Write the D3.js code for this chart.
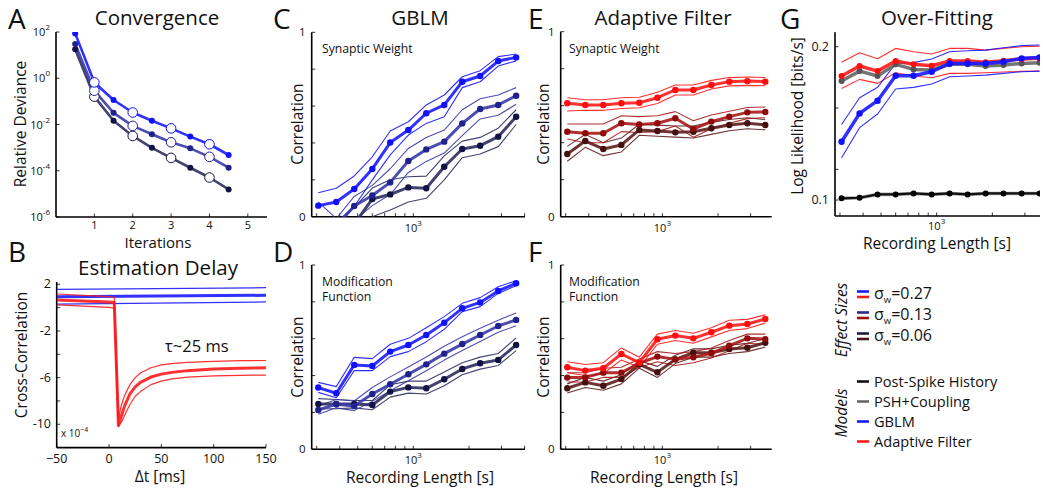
<!DOCTYPE html>
<html>
<head>
<meta charset="utf-8">
<script src="https://cdn.jsdelivr.net/npm/d3@7"></script>
<style>
  body { margin: 0; background: #fff; }
  svg { font-family: "Open Sans", sans-serif; display: block; }
</style>
</head>
<body>
<svg id="chart" width="1043" height="491"></svg>
<script>
// ---- A: convergence ----
const iterations = [0.5, 1, 1.5, 2, 2.5, 3, 3.5, 4, 4.5];
const devHigh = [87, 0.66, 0.115, 0.033, 0.0145, 0.0068, 0.003, 0.0014, 0.00048];
const devMid = [30, 0.29, 0.032, 0.0087, 0.0038, 0.0017, 0.00093, 0.0004, 0.000135];
const devLow = [18, 0.16, 0.0145, 0.0032, 0.00098, 0.00036, 0.000135, 0.000051, 0.0000155];
const devYTicks = [-6, -4, -2, 0, 2];   // exponents
const iterTicks = [1, 2, 3, 4, 5];

// ---- B: estimation delay ----
const blueLag = [-50, 150];
const blueXC = [0.94, 1.06];
const blueXCUp = [1.57, 1.71];
const blueXCLo = [0.30, 0.49];
const redLag = [-50, 0, 5, 9, 12, 15, 20, 25, 30, 40, 50, 60, 75, 100, 125, 150];
const redXC = [0.66, 0.48, 0.44, -10.1, -9.2, -8.4, -7.4, -6.8, -6.4, -5.95, -5.7, -5.55, -5.4, -5.27, -5.2, -5.15];
const redXCUp = [1.17, 0.95, 0.89, -9.5, -8.3, -7.5, -6.6, -6.0, -5.6, -5.15, -4.9, -4.8, -4.7, -4.6, -4.55, -4.53];
const redXCLo = [0.24, 0.02, -0.04, -10.2, -9.8, -9.2, -8.3, -7.6, -7.2, -6.6, -6.3, -6.1, -5.95, -5.85, -5.8, -5.78];
const lagTicks = [-50, 0, 50, 100, 150];
const xcTicks = [2, 0, -2, -4, -6, -8, -10];
const xcLabels = [2, -2, -6, -10];

// ---- C-F: correlation vs recording length ----
const recLen = [306, 383, 479, 600, 750, 940, 1175, 1470, 1840, 2300, 2880, 3600];
const corrTicks = [0, 0.2, 0.4, 0.6, 0.8, 1];
const lenMinor = [300, 400, 500, 600, 700, 800, 900, 1000, 2000, 3000, 4000];

// C: GBLM synaptic weight
const gblmW = [
  [0.060, 0.080, 0.150, 0.259, 0.402, 0.470, 0.561, 0.606, 0.732, 0.763, 0.844, 0.864],
  [-0.20, -0.05, 0.058, 0.115, 0.186, 0.302, 0.365, 0.407, 0.506, 0.584, 0.606, 0.656],
  [-0.25, -0.15, -0.04, 0.096, 0.121, 0.159, 0.154, 0.271, 0.367, 0.385, 0.434, 0.542]
];
const gblmWUp = [
  [0.130, 0.154, 0.221, 0.325, 0.465, 0.515, 0.606, 0.660, 0.759, 0.792, 0.868, 0.882],
  [0.08, -0.01, 0.11, 0.17, 0.26, 0.37, 0.43, 0.47, 0.58, 0.64, 0.66, 0.70],
  [-0.10, -0.05, 0.05, 0.155, 0.20, 0.217, 0.22, 0.33, 0.41, 0.43, 0.48, 0.58]
];
const gblmWLo = [
  [-0.01, -0.03, 0.055, 0.20, 0.335, 0.443, 0.506, 0.542, 0.70, 0.732, 0.817, 0.845],
  [-0.30, -0.12, -0.02, 0.06, 0.12, 0.24, 0.30, 0.345, 0.44, 0.53, 0.55, 0.61],
  [-0.35, -0.25, -0.10, 0.0, 0.036, 0.08, 0.10, 0.20, 0.32, 0.34, 0.38, 0.50]
];
// D: GBLM modification function
const gblmM = [
  [0.335, 0.304, 0.458, 0.452, 0.530, 0.566, 0.620, 0.687, 0.765, 0.797, 0.859, 0.901],
  [0.213, 0.245, 0.235, 0.300, 0.353, 0.407, 0.461, 0.519, 0.571, 0.620, 0.669, 0.702],
  [0.246, 0.246, 0.246, 0.240, 0.313, 0.336, 0.331, 0.380, 0.436, 0.467, 0.485, 0.566]
];
const gblmMUp = [
  [0.363, 0.340, 0.499, 0.492, 0.570, 0.602, 0.660, 0.720, 0.792, 0.823, 0.882, 0.915],
  [0.235, 0.27, 0.262, 0.335, 0.393, 0.447, 0.501, 0.559, 0.611, 0.657, 0.70, 0.74],
  [0.275, 0.27, 0.265, 0.265, 0.35, 0.37, 0.37, 0.42, 0.47, 0.50, 0.52, 0.605]
];
const gblmMLo = [
  [0.309, 0.280, 0.427, 0.427, 0.503, 0.530, 0.584, 0.651, 0.747, 0.774, 0.846, 0.888],
  [0.19, 0.225, 0.21, 0.26, 0.318, 0.372, 0.426, 0.484, 0.536, 0.585, 0.635, 0.67],
  [0.22, 0.22, 0.225, 0.215, 0.283, 0.305, 0.30, 0.345, 0.405, 0.435, 0.455, 0.535]
];
// E: adaptive filter synaptic weight
const afW = [
  [0.613, 0.604, 0.604, 0.613, 0.616, 0.643, 0.685, 0.685, 0.712, 0.730, 0.733, 0.730],
  [0.459, 0.451, 0.451, 0.505, 0.499, 0.505, 0.532, 0.474, 0.514, 0.541, 0.564, 0.566],
  [0.339, 0.409, 0.366, 0.388, 0.469, 0.463, 0.456, 0.459, 0.478, 0.496, 0.505, 0.496]
];
const afWUp = [
  [0.643, 0.632, 0.632, 0.643, 0.646, 0.673, 0.712, 0.712, 0.737, 0.752, 0.755, 0.752],
  [0.501, 0.501, 0.501, 0.546, 0.541, 0.546, 0.568, 0.519, 0.55, 0.57, 0.59, 0.593],
  [0.38, 0.445, 0.40, 0.425, 0.50, 0.495, 0.49, 0.49, 0.51, 0.525, 0.535, 0.525]
];
const afWLo = [
  [0.571, 0.575, 0.575, 0.585, 0.589, 0.612, 0.658, 0.658, 0.69, 0.707, 0.71, 0.708],
  [0.42, 0.40, 0.40, 0.46, 0.455, 0.46, 0.49, 0.43, 0.475, 0.505, 0.53, 0.535],
  [0.30, 0.375, 0.33, 0.35, 0.44, 0.435, 0.43, 0.425, 0.445, 0.465, 0.475, 0.47]
];
// F: adaptive filter modification function
const afM = [
  [0.445, 0.427, 0.440, 0.517, 0.470, 0.597, 0.617, 0.602, 0.635, 0.671, 0.680, 0.707],
  [0.389, 0.39, 0.416, 0.416, 0.467, 0.503, 0.488, 0.499, 0.521, 0.562, 0.602, 0.598],
  [0.331, 0.363, 0.345, 0.381, 0.461, 0.418, 0.488, 0.524, 0.524, 0.544, 0.551, 0.578]
];
const afMUp = [
  [0.475, 0.46, 0.47, 0.55, 0.50, 0.625, 0.645, 0.63, 0.66, 0.70, 0.705, 0.73],
  [0.415, 0.415, 0.44, 0.445, 0.49, 0.53, 0.52, 0.53, 0.55, 0.59, 0.625, 0.625],
  [0.355, 0.39, 0.37, 0.405, 0.48, 0.45, 0.51, 0.545, 0.545, 0.565, 0.575, 0.60]
];
const afMLo = [
  [0.415, 0.40, 0.41, 0.485, 0.445, 0.57, 0.59, 0.575, 0.61, 0.645, 0.655, 0.685],
  [0.365, 0.365, 0.39, 0.39, 0.445, 0.475, 0.455, 0.47, 0.495, 0.535, 0.575, 0.57],
  [0.305, 0.335, 0.32, 0.355, 0.44, 0.39, 0.465, 0.50, 0.50, 0.52, 0.53, 0.555]
];

// ---- G: over-fitting (log likelihood) ----
const llHistory = [0.1011, 0.1015, 0.1037, 0.1037, 0.1043, 0.1037, 0.1043, 0.1037, 0.1043, 0.1043, 0.1043, 0.1043];
const llCoupling = [0.1776, 0.1841, 0.1809, 0.1885, 0.1852, 0.1848, 0.1885, 0.1885, 0.1874, 0.1880, 0.1891, 0.1896];
const llGblm = [0.1380, 0.1565, 0.1648, 0.1811, 0.1811, 0.1837, 0.1891, 0.1891, 0.1891, 0.1902, 0.1924, 0.1930];
const llGblmUp = [0.1493, 0.1667, 0.1735, 0.1891, 0.1896, 0.1920, 0.1967, 0.1974, 0.1978, 0.1993, 0.2007, 0.2011];
const llGblmLo = [0.1276, 0.1472, 0.1561, 0.1724, 0.1735, 0.1757, 0.1804, 0.1809, 0.1815, 0.1826, 0.1837, 0.1841];
const llAf = [0.1809, 0.1874, 0.1841, 0.1907, 0.1885, 0.1876, 0.1907, 0.1907, 0.1898, 0.1909, 0.1920, 0.1924];
const llAfUp = [0.1898, 0.1961, 0.1922, 0.1989, 0.1967, 0.1952, 0.1989, 0.1989, 0.1978, 0.1989, 0.2000, 0.2004];
const llAfLo = [0.1728, 0.1787, 0.1761, 0.1830, 0.1809, 0.1798, 0.1826, 0.1826, 0.1830, 0.1835, 0.1839, 0.1841];
const llTicks = [0.1, 0.12, 0.16, 0.2];
const llLabels = [0.1, 0.2];

// ---- legend ----
const effectSizes = ["0.27", "0.13", "0.06"];
const modelNames = ["Post-Spike History", "PSH+Coupling", "GBLM", "Adaptive Filter"];
const modelColors = ["#111", "#666", "#1a1aff", "#ff1a1a"];

const blueLine = ["#1a1aff", "#3a3aa8", "#2e2e60"];
const blueDot = ["#1010ff", "#20208f", "#121245"];
const redLine = ["#ff1a1a", "#a81818", "#5e1e1e"];
const redDot = ["#ff0c0c", "#8f0a0a", "#451010"];

const svg = d3.select("#chart");
let clipId = 0;

function axesFrame(x, y, xTicks, yTicks) {
  const [x0, x1] = x.range();
  const [y0, y1] = y.range();
  const g = svg.append("g").attr("stroke", "#000").attr("fill", "none");
  g.append("line").attr("x1", x0).attr("x2", x1).attr("y1", y0).attr("y2", y0).attr("stroke-width", 1.6);
  g.append("line").attr("x1", x0).attr("x2", x0).attr("y1", y0).attr("y2", y1).attr("stroke-width", 1.6);
  xTicks.forEach(v => g.append("line")
    .attr("x1", x(v)).attr("x2", x(v)).attr("y1", y0).attr("y2", y0 - 3.5).attr("stroke-width", 0.8));
  yTicks.forEach(v => g.append("line")
    .attr("x1", x0).attr("x2", x0 + 3.5).attr("y1", y(v)).attr("y2", y(v)).attr("stroke-width", 0.8));
}

function plotArea(x, y) {
  const id = "clip" + (clipId++);
  const [x0, x1] = x.range();
  const [y0, y1] = y.range();
  svg.append("clipPath").attr("id", id).append("rect")
    .attr("x", x0).attr("y", y1).attr("width", x1 - x0).attr("height", y0 - y1);
  return svg.append("g").attr("clip-path", `url(#${id})`);
}

function txt(x, y, s, size, anchor = "start", extra = {}) {
  const t = svg.append("text").attr("x", x).attr("y", y)
    .attr("font-size", size).attr("text-anchor", anchor).attr("fill", "#111").text(s);
  Object.entries(extra).forEach(([k, v]) => t.attr(k, v));
  return t;
}

function vlabel(x, y, s, size, extra = {}) {
  const t = svg.append("text").attr("transform", `translate(${x},${y}) rotate(-90)`)
    .attr("font-size", size).attr("text-anchor", "middle").attr("fill", "#111").text(s);
  Object.entries(extra).forEach(([k, v]) => t.attr(k, v));
  return t;
}

function powLabel(x, y, base, exp, anchor) {
  const t = svg.append("text").attr("x", x).attr("y", y).attr("font-size", 11)
    .attr("text-anchor", anchor).attr("fill", "#111");
  t.append("tspan").text(base);
  t.append("tspan").attr("dy", -6).attr("font-size", 8).text(exp);
  return t;
}

function series(g, x, xs, y, ys, color, width, dots, dotColor, r = 3.2) {
  const pts = xs.map((d, i) => [x(d), y(ys[i])]);
  g.append("path").attr("d", d3.line()(pts)).attr("fill", "none")
    .attr("stroke", color).attr("stroke-width", width)
    .attr("stroke-linejoin", "round").attr("stroke-opacity", 0.9);
  if (dots) g.append("g").selectAll("circle").data(pts).join("circle")
    .attr("cx", d => d[0]).attr("cy", d => d[1]).attr("r", r).attr("fill", dotColor);
}

// ================= A =================
{
  const x = d3.scaleLinear().domain([0, 5.5]).range([56, 267]);
  const y = d3.scaleLog().domain([1e-6, 1e2]).range([217, 32]);
  axesFrame(x, y, iterTicks, devYTicks.map(e => Math.pow(10, e)));
  const g = plotArea(x, y);
  const sets = [devLow, devMid, devHigh];
  const cols = [blueLine[2], blueLine[1], blueLine[0]];
  const dcols = [blueDot[2], blueDot[1], blueDot[0]];
  sets.forEach((s, k) => {
    series(g, x, iterations, y, s, cols[k], 2.6, false);
  });
  sets.forEach((s, k) => {
    iterations.forEach((it, i) => {
      if (Number.isInteger(it)) {
        g.append("circle").attr("cx", x(it)).attr("cy", y(s[i])).attr("r", 4.8)
          .attr("fill", "#fff").attr("stroke", dcols[k]).attr("stroke-width", 1);
      } else {
        g.append("circle").attr("cx", x(it)).attr("cy", y(s[i])).attr("r", 3)
          .attr("fill", dcols[k]);
      }
    });
  });
  devYTicks.forEach(e => powLabel(50, y(Math.pow(10, e)) + 4, "10", e, "end"));
  iterTicks.forEach(v => txt(x(v), 229, v, 11, "middle"));
  txt(157, 25, "Convergence", 20.5, "middle");
  txt(158, 248.3, "Iterations", 15, "middle");
  vlabel(26, 124, "Relative Deviance", 15.5);
  txt(8, 29, "A", 28);
}

// ================= B =================
{
  const x = d3.scaleLinear().domain([-50, 150]).range([56.7, 266]);
  const y = d3.scaleLinear().domain([-12, 2.2]).range([447.6, 282]);
  axesFrame(x, y, lagTicks, xcTicks);
  const g = plotArea(x, y);
  series(g, x, blueLag, y, blueXCUp, blueLine[0], 1.2, false);
  series(g, x, blueLag, y, blueXCLo, blueLine[0], 1.2, false);
  series(g, x, blueLag, y, blueXC, blueLine[0], 3, false);
  series(g, x, redLag, y, redXCUp, redLine[0], 1.2, false);
  series(g, x, redLag, y, redXCLo, redLine[0], 1.2, false);
  series(g, x, redLag, y, redXC, redLine[0], 3, false);
  xcLabels.forEach(v => txt(51, y(v) + 4, v, 12.5, "end"));
  lagTicks.forEach(v => txt(x(v), 463, v === -50 ? "\u221250" : v, 12.5, "middle"));
  txt(61, 437, "x 10", 10).append("tspan").attr("dy", -5).attr("font-size", 7).text("\u22124");
  txt(165, 352, "\u03c4~25 ms", 16.5);
  txt(158, 275, "Estimation Delay", 20.5, "middle");
  txt(160, 482, "\u0394t [ms]", 15.5, "middle");
  vlabel(27, 355, "Cross-Correlation", 15.5);
  txt(8, 262, "B", 28);
}

// ================= C-F =================
function corrPanel(xr, yr, centre, up, lo, lineCols, dotCols) {
  const x = d3.scaleLog().domain([282, xr[2]]).range([xr[0], xr[1]]);
  const y = d3.scaleLinear().domain([0, 1]).range(yr);
  axesFrame(x, y, lenMinor.filter(v => v <= xr[2]), corrTicks);
  const g = plotArea(x, y);
  [2, 1, 0].forEach(k => {
    series(g, x, recLen, y, up[k], lineCols[k], 1.1, false);
    series(g, x, recLen, y, lo[k], lineCols[k], 1.1, false);
  });
  [2, 1, 0].forEach(k => series(g, x, recLen, y, centre[k], lineCols[k], 3, true, dotCols[k]));
  txt(xr[0] - 6, y(1) + 4, "1", 11.5, "end");
  txt(xr[0] - 6, y(0) + 4, "0", 11.5, "end");
  powLabel(x(1000), y(0) + 15, "10", "3", "middle");
  return { x, y };
}

{
  corrPanel([311.7, 525, 4020], [216.7, 32.3], gblmW, gblmWUp, gblmWLo, blueLine, blueDot);
  txt(420, 25, "GBLM", 20.5, "middle");
  txt(322, 53, "Synaptic Weight", 12.2);
  vlabel(303, 124, "Correlation", 15.5);
  txt(273, 29, "C", 28);

  corrPanel([311.7, 525, 4020], [449.3, 265], gblmM, gblmMUp, gblmMLo, blueLine, blueDot);
  txt(322, 286, "Modification", 12.2);
  txt(322, 301, "Function", 12.2);
  txt(420, 483, "Recording Length [s]", 15.5, "middle");
  vlabel(303, 357, "Correlation", 15.5);
  txt(273, 262, "D", 28);

  corrPanel([560.7, 771.7, 3900], [216.7, 31.7], afW, afWUp, afWLo, redLine, redDot);
  txt(663, 25, "Adaptive Filter", 20.5, "middle");
  txt(569, 53, "Synaptic Weight", 12.2);
  vlabel(549, 124, "Correlation", 15.5);
  txt(528, 29, "E", 28);

  corrPanel([560.7, 771.7, 3900], [449.3, 265], afM, afMUp, afMLo, redLine, redDot);
  txt(569, 286, "Modification", 12.2);
  txt(569, 301, "Function", 12.2);
  txt(664, 483, "Recording Length [s]", 15.5, "middle");
  vlabel(549, 357, "Correlation", 15.5);
  txt(528, 262, "F", 28);
}

// ================= G =================
{
  const x = d3.scaleLog().domain([282, 3620]).range([835, 1040]);
  const y = d3.scaleLinear().domain([0.0896, 0.2094]).range([216, 32.3]);
  axesFrame(x, y, lenMinor.filter(v => v <= 3620), llTicks);
  const g = plotArea(x, y);
  series(g, x, recLen, y, llAfUp, "#ff1a1a", 1.1, false);
  series(g, x, recLen, y, llAfLo, "#ff1a1a", 1.1, false);
  series(g, x, recLen, y, llGblmUp, "#1a1aff", 1.1, false);
  series(g, x, recLen, y, llGblmLo, "#1a1aff", 1.1, false);
  series(g, x, recLen, y, llHistory, "#999", 3.6, false);
  series(g, x, recLen, y, llHistory, "#000", 2.2, true, "#000", 3);
  series(g, x, recLen, y, llCoupling, "#666", 3.5, true, "#555", 3);
  series(g, x, recLen, y, llAf, "#ff1a1a", 3.5, true, "#ff0c0c", 3);
  series(g, x, recLen, y, llGblm, "#1a1aff", 3.5, true, "#1010ff", 3.2);
  llLabels.forEach(v => txt(829, y(v) + 4, v, 12.5, "end"));
  powLabel(x(1000), 230, "10", "3", "middle");
  txt(937, 25, "Over-Fitting", 20.5, "middle");
  txt(937, 249, "Recording Length [s]", 15.5, "middle");
  vlabel(803, 116, "Log Likelihood [bits/s]", 15.5);
  txt(780, 29, "G", 28);
}

// ================= legend =================
{
  const rowY = [294, 315, 336];
  effectSizes.forEach((s, i) => {
    svg.append("line").attr("x1", 857).attr("x2", 869).attr("y1", rowY[i] - 2.5).attr("y2", rowY[i] - 2.5)
      .attr("stroke", i === 0 ? blueLine[0] : i === 1 ? "#2a2a90" : "#1c1c3a").attr("stroke-width", 2.6);
    svg.append("line").attr("x1", 857).attr("x2", 869).attr("y1", rowY[i] + 3).attr("y2", rowY[i] + 3)
      .attr("stroke", i === 0 ? redLine[0] : i === 1 ? "#9a1010" : "#4a1414").attr("stroke-width", 2.6);
    const t = txt(874, rowY[i] + 5, "\u03c3", 16);
    t.append("tspan").attr("dy", 4).attr("font-size", 9.5).text("w");
    t.append("tspan").attr("dy", -4).text("=" + s);
  });
  vlabel(847, 320, "Effect Sizes", 15.5, { "font-style": "italic" });

  const modelY = [381.5, 401.5, 421.5, 441.5];
  modelNames.forEach((m, i) => {
    svg.append("line").attr("x1", 857).attr("x2", 869).attr("y1", modelY[i]).attr("y2", modelY[i])
      .attr("stroke", modelColors[i]).attr("stroke-width", 2.6);
    txt(874, modelY[i] + 5.5, m, 14.6);
  });
  vlabel(847, 413, "Models", 15.5, { "font-style": "italic" });
}
</script>
</body>
</html>
